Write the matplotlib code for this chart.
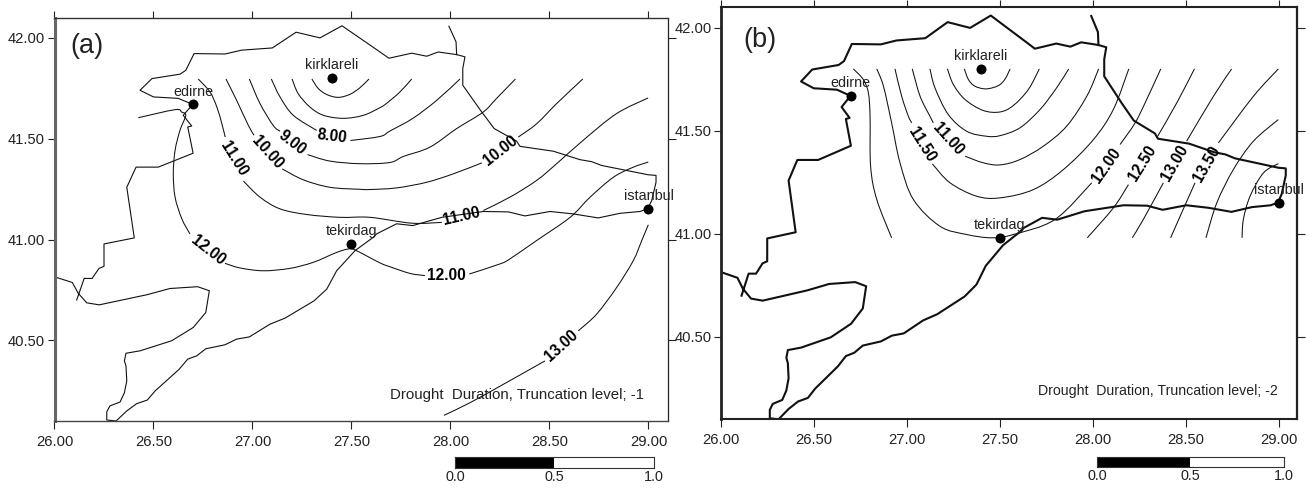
import matplotlib
matplotlib.use("Agg")
import math
import matplotlib.pyplot as plt
from matplotlib.path import Path
from matplotlib.patches import PathPatch

plt.rcParams['font.family'] = ['Liberation Sans', 'DejaVu Sans']
N = float('nan')

# ---------- shoreline / border (lon, lat) ----------
coast_lon = [26.112, 26.15, 26.19, 26.225, 26.25, 26.25, 26.403, 26.39, 26.365, 26.412, 26.524, 26.70, 26.673, 26.693,
             26.65, 26.698, 26.625, 26.50, 26.432, 26.492, 26.634, 26.663, 26.705, 26.861, 26.945, 27.10, 27.22,
             27.341, 27.452, 27.644, 27.689, 27.804, 27.88, 27.938, 28.031, 28.073, 28.062, 28.062, 28.158, 28.221,
             28.334, 28.351, 28.519, 28.654, 28.713, 28.764, 28.907, 28.999, 29.038, 29.038, 29.016, 28.996, 28.957,
             28.856, 28.746, 28.62, 28.503, 28.376, 28.292, 28.166, 27.956, 27.809, 27.728, 27.627, 27.61, 27.518,
             27.425, 27.375, 27.311, 27.164, 27.088, 26.984, 26.92, 26.861, 26.764, 26.718, 26.673, 26.63, 26.508,
             26.469, 26.415, 26.365, 26.311, 26.264, 26.264, 26.28, 26.331, 26.353, 26.365, 26.361, 26.353, 26.361,
             26.432, 26.592, 26.701, 26.764, 26.782, 26.723, 26.583, 26.466, 26.226, 26.163, 26.12, 26.09, 26.0]
coast_lat = [40.70, 40.807, 40.807, 40.857, 40.867, 40.978, 41.008, 41.094, 41.259, 41.359, 41.359, 41.428, 41.558,
             41.563, 41.616, 41.67, 41.70, 41.707, 41.74, 41.798, 41.82, 41.839, 41.922, 41.92, 41.939, 41.95, 42.028,
             42.0, 42.06, 41.93, 41.899, 41.924, 41.909, 41.93, 41.917, 41.906, 41.848, 41.765, 41.632, 41.55,
             41.488, 41.462, 41.438, 41.396, 41.386, 41.367, 41.339, 41.321, 41.318, 41.284, 41.193, 41.152, 41.139,
             41.13, 41.107, 41.127, 41.139, 41.117, 41.137, 41.139, 41.11, 41.069, 41.078, 41.028, 41.011, 40.945,
             40.845, 40.754, 40.696, 40.61, 40.58, 40.517, 40.506, 40.478, 40.458, 40.423, 40.407, 40.357, 40.249,
             40.204, 40.186, 40.15, 40.10, 40.105, 40.146, 40.175, 40.194, 40.24, 40.299, 40.373, 40.398, 40.436,
             40.448, 40.498, 40.564, 40.638, 40.746, 40.766, 40.757, 40.726, 40.676, 40.686, 40.733, 40.787, 40.815]
spur_lon = [27.992, 28.028, 28.031]
spur_lat = [42.058, 41.98, 41.917]

# ---------- cities ----------
city_names = ['kirklareli', 'edirne', 'tekirdag', 'istanbul']
city_lon = [27.40, 26.70, 27.50, 29.00]
city_lat = [41.80, 41.67, 40.98, 41.15]

# ---------- panel (a) isolines; NaN marks a gap left for a label ----------
a1_lon = [27.30, 27.332, 27.375, 27.433, 27.492, 27.543, 27.588]
a1_lat = [41.796, 41.749, 41.719, 41.705, 41.72, 41.753, 41.796]
a2_lon = [27.20, 27.231, 27.29, 27.358, 27.459, 27.56, 27.644, 27.678, 27.745, 27.804]
a2_lat = [41.796, 41.723, 41.657, 41.616, 41.601, 41.616, 41.654, 41.676, 41.732, 41.796]
a3_lon = [27.095, 27.139, 27.206, 27.324, N, 27.495, 27.644, 27.694, 27.81, 27.93, 28.048]
a3_lat = [41.796, 41.707, 41.616, 41.541, N, 41.491, 41.511, 41.538, 41.601, 41.69, 41.796]
a4_lon = [26.984, 27.038, 27.105, 27.139, N, 27.278, 27.391, 27.543, 27.694, 27.762, 27.896, 28.031, 28.165, 28.232, 28.328]
a4_lat = [41.796, 41.674, 41.565, 41.537, N, 41.421, 41.389, 41.376, 41.382, 41.412, 41.458, 41.55, 41.632, 41.699, 41.796]
a5_lon = [26.866, 26.92, 26.979, 27.008, N, 27.15, 27.257, 27.391, 27.543, 27.594, 27.728, 27.88, 28.015, 28.158, N,
          28.342, 28.435, 28.536, 28.668]
a5_lat = [41.796, 41.69, 41.566, 41.517, N, 41.35, 41.296, 41.259, 41.249, 41.248, 41.256, 41.284, 41.326, 41.38, N,
          41.508, 41.574, 41.674, 41.796]
a6_lon = [26.726, 26.785, 26.82, 26.845, 26.862, N, 26.954, 27.038, 27.139, 27.274, 27.442, 27.594, 27.804, 27.956, N,
          28.166, 28.30, 28.435, 28.536, 28.67, 28.838, 28.998]
a6_lat = [41.796, 41.732, 41.657, 41.575, 41.508, N, 41.29, 41.21, 41.152, 41.124, 41.11, 41.11, 41.081, 41.085, N,
          41.144, 41.21, 41.293, 41.376, 41.492, 41.624, 41.702]
a7_lon = [26.423, 26.609, 26.642, 26.663, 26.634, 26.609, 26.60, 26.609, 26.643, 26.684, N, 26.861, 26.937, 27.055, 27.189,
          27.307, 27.425, 27.484, 27.518, 27.644, 27.694, 27.795, 27.871, N, 28.095, 28.25, 28.30, 28.435, 28.604,
          28.705, 28.823, 28.924, 28.999]
a7_lat = [41.604, 41.644, 41.632, 41.616, 41.542, 41.442, 41.327, 41.21, 41.103, 41.028, N, 40.882, 40.859, 40.845, 40.857,
          40.887, 40.936, 40.953, 40.948, 40.884, 40.865, 40.832, 40.821, N, 40.829, 40.879, 40.904, 40.995, 41.11,
          41.21, 41.309, 41.359, 41.384]
a8_lon = [27.967, 28.099, 28.267, 28.477, N, 28.645, 28.738, 28.839, 28.923, 28.966, 28.999]
a8_lat = [40.128, 40.191, 40.282, 40.398, N, 40.547, 40.63, 40.762, 40.895, 40.995, 41.073]

# ---------- panel (b) isolines ----------
b1_lon = [27.31, 27.332, 27.367, 27.427, 27.493, 27.529, 27.556]
b1_lat = [41.801, 41.749, 41.717, 41.704, 41.72, 41.752, 41.801]
b2_lon = [27.219, 27.251, 27.314, 27.412, 27.502, 27.573, 27.654, 27.713]
b2_lat = [41.801, 41.725, 41.652, 41.599, 41.592, 41.623, 41.701, 41.801]
b3_lon = [27.125, 27.152, 27.224, 27.323, 27.43, 27.502, 27.609, 27.717, 27.806, 27.871]
b3_lat = [41.801, 41.709, 41.579, 41.498, 41.474, 41.477, 41.515, 41.604, 41.709, 41.801]
b4_lon = [27.03, 27.072, 27.125, 27.143, N, 27.314, 27.412, 27.502, 27.609, 27.735, 27.86, 27.968, 28.032]
b4_lat = [41.801, 41.668, 41.571, 41.539, N, 41.377, 41.345, 41.335, 41.361, 41.426, 41.523, 41.668, 41.801]
b5_lon = [26.937, 26.973, 27.009, 27.027, N, 27.138, 27.233, 27.376, 27.502, 27.681, 27.842, 28.004, 28.111, 28.194]
b5_lat = [41.801, 41.668, 41.571, 41.539, N, 41.34, 41.248, 41.183, 41.175, 41.215, 41.312, 41.458, 41.604, 41.801]
b6_lon = [26.839, 26.875, 26.919, 26.964, 27.036, 27.179, 27.323, 27.457, 27.573, 27.797, 27.995, N, 28.147, 28.228, 28.29, 28.366]
b6_lat = [41.801, 41.717, 41.539, 41.345, 41.167, 41.037, 40.997, 40.981, 40.997, 41.07, 41.248, N, 41.434, 41.539, 41.652, 41.801]
b7_lon = [26.713, 26.767, 26.794, 26.803, 26.806, 26.839, 26.919, N, 27.971, 28.111, 28.192, N, 28.344, 28.452, 28.547]
b7_lat = [41.801, 41.749, 41.684, 41.571, 41.328, 41.167, 40.981, N, 40.981, 41.126, 41.239, N, 41.466, 41.636, 41.801]
b8_lon = [28.213, 28.272, 28.38, N, 28.505, 28.649, 28.747]
b8_lat = [40.981, 41.07, 41.248, N, 41.45, 41.668, 41.801]
b9_lon = [28.419, 28.478, 28.55, N, 28.676, 28.864, 28.998]
b9_lat = [40.981, 41.102, 41.248, N, 41.442, 41.668, 41.801]
b10_lon = [28.609, 28.667, 28.756, 28.864, 28.998]
b10_lat = [40.981, 41.15, 41.312, 41.45, 41.555]
b11_lon = [28.803, 28.81, 28.846, 28.918, 28.998]
b11_lat = [40.981, 41.07, 41.183, 41.296, 41.341]

# ---------- isoline labels ----------
a_label_text = ['11.00', '10.00', '9.00', '8.00', '10.00', '11.00', '12.00', '12.00', '13.00']
a_label_lon = [26.907, 27.075, 27.201, 27.403, 28.254, 28.057, 26.774, 27.981, 28.562]
a_label_lat = [41.40, 41.43, 41.478, 41.511, 41.442, 41.114, 40.948, 40.824, 40.473]
b_label_text = ['11.50', '11.00', '12.00', '12.50', '13.00', '13.50']
b_label_lon = [27.081, 27.224, 28.075, 28.269, 28.443, 28.613]
b_label_lat = [41.434, 41.458, 41.333, 41.341, 41.345, 41.341]

x_ticks = [26.0, 26.5, 27.0, 27.5, 28.0, 28.5, 29.0]
y_ticks = [40.5, 41.0, 41.5, 42.0]
scale_ticks = [0.0, 0.5, 1.0]

W, H = 1309, 490
fig = plt.figure(figsize=(W / 100, H / 100), dpi=100)


def box(l, r, t, b):
    return [l / W, 1 - b / H, (r - l) / W, (b - t) / H]


def curve_path(lon, lat):
    """Rounded path through every read-off vertex (Catmull-Rom as Bezier); NaN breaks the line."""
    verts, codes = [], []
    seg = []
    for p in list(zip(lon, lat)) + [(N, N)]:
        if math.isnan(p[0]):
            for i in range(len(seg) - 1):
                p0 = seg[max(i - 1, 0)]
                p1 = seg[i]
                p2 = seg[i + 1]
                p3 = seg[min(i + 2, len(seg) - 1)]
                if i == 0:
                    verts.append(p1)
                    codes.append(Path.MOVETO)
                verts += [(p1[0] + (p2[0] - p0[0]) / 6, p1[1] + (p2[1] - p0[1]) / 6),
                          (p2[0] - (p3[0] - p1[0]) / 6, p2[1] - (p3[1] - p1[1]) / 6), p2]
                codes += [Path.CURVE4] * 3
            seg = []
        else:
            seg.append(p)
    return Path(verts, codes)


def panel(rect, coast_lw, iso, labels, rots, tag, tag_xy, note, note_xy, note_size, spines, pad_left):
    ax = fig.add_axes(rect)
    ax.set_xlim(26.0, 29.1)
    ax.set_ylim(40.1, 42.1)
    ax.plot(coast_lon, coast_lat, color='#111111', lw=coast_lw, solid_joinstyle='round')
    ax.plot(spur_lon, spur_lat, color='#111111', lw=coast_lw)
    for lon, lat in iso:
        ax.add_patch(PathPatch(curve_path(lon, lat), fill=False, ec='#111111', lw=0.75))
    ax.plot(city_lon, city_lat, 'o', color='black', ms=7.2, mew=0, zorder=5)
    for name, lon, lat in zip(city_names, city_lon, city_lat):
        ax.annotate(name, (lon, lat), xytext=(0, 9.2), textcoords='offset points', ha='center', va='center',
                    fontsize=10.4, color='#222222', zorder=6)
    for (txt, lon, lat), rot in zip(labels, rots):
        ax.text(lon, lat, txt, fontsize=11.2, fontweight='bold', color='black', rotation=rot,
                rotation_mode='anchor', ha='center', va='center', zorder=6)
    ax.text(tag_xy[0], tag_xy[1], tag, fontsize=19.5, ha='center', va='center', color='#222222')
    ax.text(note_xy[0], note_xy[1], note, fontsize=note_size, ha='left', va='center', color='#222222')
    ax.set_xticks(x_ticks)
    ax.set_yticks(y_ticks)
    ax.set_xticklabels([f'{v:.2f}' for v in x_ticks])
    ax.set_yticklabels([f'{v:.2f}' for v in y_ticks])
    ax.tick_params(axis='both', which='major', top=True, right=True, direction='out', length=5.4, width=0.8,
                   color='#222222', labelsize=10.6, labelcolor='#222222')
    ax.tick_params(axis='x', pad=4.5)
    ax.tick_params(axis='y', pad=pad_left)
    for side, (lw, col) in spines.items():
        ax.spines[side].set_linewidth(lw)
        ax.spines[side].set_color(col)
    return ax


def scale(rect, fs):
    ax = fig.add_axes(rect)
    ax.barh([0], [scale_ticks[1] - scale_ticks[0]], left=scale_ticks[0], height=1, color='black')
    ax.barh([0], [scale_ticks[2] - scale_ticks[1]], left=scale_ticks[1], height=1, color='white')
    ax.set_xlim(0, 1)
    ax.set_ylim(-0.5, 0.5)
    ax.set_yticks([])
    ax.set_xticks(scale_ticks)
    ax.set_xticklabels([f'{v:.1f}' for v in scale_ticks])
    ax.tick_params(axis='x', length=0, pad=1.5, labelsize=fs, labelcolor='#222222')
    for s in ax.spines.values():
        s.set_linewidth(0.8)
        s.set_color('#333333')


panel(box(54.5, 668.3, 17.7, 421), 0.8,
      [(a1_lon, a1_lat), (a2_lon, a2_lat), (a3_lon, a3_lat), (a4_lon, a4_lat),
       (a5_lon, a5_lat), (a6_lon, a6_lat), (a7_lon, a7_lat), (a8_lon, a8_lat)],
      list(zip(a_label_text, a_label_lon, a_label_lat)),
      [-58, -48, -38, -7, 38, 13, -38, 0, 42],
      '(a)', (26.165, 41.96),
      'Drought  Duration, Truncation level; -1', (27.694, 40.229), 10.8,
      {'left': (2.2, '#666666'), 'bottom': (1.0, '#444444'), 'top': (1.0, '#333333'), 'right': (0.9, '#222222')}, 1.5)

panel(box(720.7, 1297.3, 7.3, 419.3), 1.5,
      [(b1_lon, b1_lat), (b2_lon, b2_lat), (b3_lon, b3_lat), (b4_lon, b4_lat), (b5_lon, b5_lat), (b6_lon, b6_lat),
       (b7_lon, b7_lat), (b8_lon, b8_lat), (b9_lon, b9_lat), (b10_lon, b10_lat), (b11_lon, b11_lat)],
      list(zip(b_label_text, b_label_lon, b_label_lat)),
      [-58, -48, 55, 58, 60, 60],
      '(b)', (26.21, 41.94),
      'Drought  Duration, Truncation level; -2', (27.708, 40.236), 10.2,
      {'left': (2.0, '#222222'), 'bottom': (1.5, '#222222'), 'top': (1.5, '#222222'), 'right': (1.6, '#222222')}, 1.0)

scale(box(455, 653.7, 457.3, 467.7), 10.4)
scale(box(1097, 1283.7, 456.7, 467.3), 10.4)

fig.savefig('out.png', dpi=100)
